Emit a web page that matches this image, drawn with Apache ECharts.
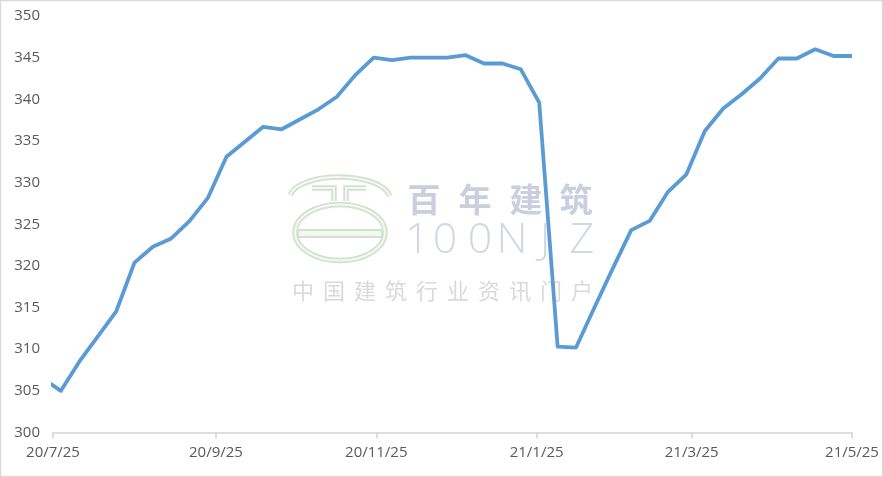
<!DOCTYPE html>
<html><head><meta charset="utf-8">
<script src="https://cdn.jsdelivr.net/npm/echarts@6/dist/echarts.min.js"></script>
<style>html,body{margin:0;padding:0;background:#fff}#c{width:883px;height:477px}</style>
</head><body><div id="c"></div>
<script>
const dates = ['2020-07-21','2020-07-28','2020-08-04','2020-08-11','2020-08-18','2020-08-25','2020-09-01','2020-09-08','2020-09-15','2020-09-22','2020-09-29','2020-10-06','2020-10-13','2020-10-20','2020-10-27','2020-11-03','2020-11-10','2020-11-17','2020-11-24','2020-12-01','2020-12-08','2020-12-15','2020-12-22','2020-12-29','2021-01-05','2021-01-12','2021-01-19','2021-01-26','2021-02-02','2021-02-09','2021-02-16','2021-02-23','2021-03-02','2021-03-09','2021-03-16','2021-03-23','2021-03-30','2021-04-06','2021-04-13','2021-04-20','2021-04-27','2021-05-04','2021-05-11','2021-05-18','2021-05-25'];
const values = [306.5,305.0,308.5,311.5,314.5,320.4,322.3,323.3,325.4,328.2,333.1,334.9,336.7,336.4,337.6,338.8,340.3,342.9,345.0,344.7,345.0,345.0,345.0,345.3,344.3,344.3,343.6,339.6,310.3,310.2,315.0,319.7,324.3,325.4,328.9,331.0,336.2,338.9,340.6,342.5,344.9,344.9,346.0,345.2,345.2];
const tickDates = ['2020-07-25','2020-09-25','2020-11-25','2021-01-25','2021-03-25','2021-05-25'];
const tickLabels = ['20/7/25','20/9/25','20/11/25','21/1/25','21/3/25','21/5/25'];
const yMin = 300, yMax = 350, yStep = 5;
const watermarkTitle = '百年建筑';
const watermarkLatin = ['1','0','0','N','J','Z'];
const watermarkSub = '中国建筑行业资讯门户';

function ts(s){const p=s.split('-').map(Number);return Date.UTC(p[0],p[1]-1,p[2]);}
const tickTs = tickDates.map(ts);
const seriesData = dates.map((d,i)=>[ts(d), values[i]]);

const chart = echarts.init(document.getElementById('c'), null, {renderer:'canvas'});

function charRow(chars, xs, y, font, fill){
  return chars.map((ch,i)=>({type:'text', x:xs[i], y:y, silent:true, z:100,
    style:{text:ch, font:font, fill:fill, align:'center', verticalAlign:'middle'}}));
}
const band = '#d2e2ce', bandIn = '#f4f8f3';
function dbl(el){
  const a = JSON.parse(JSON.stringify(el)); a.style = Object.assign({fill:'none', stroke:band, lineWidth:5.5}, el.style||{});
  const b = JSON.parse(JSON.stringify(el)); b.style = Object.assign({fill:'none', stroke:bandIn, lineWidth:2}, el.style||{}); b.z = 101;
  a.silent = b.silent = true; a.z = a.z||100;
  return [a,b];
}
let graphics = [
  {type:'rect', shape:{x:0.5,y:0.5,width:882,height:476}, style:{fill:'none',stroke:'#d9d9d9',lineWidth:1.5}, silent:true, z:100}
];
graphics = graphics.concat(
  dbl({type:'bezierCurve', shape:{x1:290,y1:195,cpx1:300,cpy1:171,cpx2:380,cpy2:171,x2:390,y2:196}}),
  dbl({type:'polyline', shape:{points:[[312,188],[334,188],[334,201]]}}),
  dbl({type:'polyline', shape:{points:[[346,201],[346,188],[366,188]]}}),
  dbl({type:'ellipse', shape:{cx:340, cy:232.5, rx:45, ry:28}}),
  [{type:'rect', shape:{x:298,y:230,width:84,height:7}, style:{fill:bandIn, stroke:band, lineWidth:2}, silent:true, z:100}]
);
graphics = graphics.concat(
  charRow(watermarkTitle.split(''), [424,475,526,576], 199, 'bold 33px "Noto Sans CJK SC"', 'rgba(150,158,190,0.5)'),
  charRow(watermarkLatin, [417,445,480,512,545,582], 241, '300 43px "Open Sans"', 'rgba(150,158,190,0.42)'),
  charRow(watermarkSub.split(''), [303,334,365,396,427,458,489,520,551,582], 291, '22px "Noto Sans CJK SC"', 'rgba(160,160,160,0.4)')
);

chart.setOption({
  animation:false,
  backgroundColor:'#ffffff',
  grid:{left:53,right:31,top:16,bottom:44.5,containLabel:false,outerBoundsMode:'none'},
  xAxis:{
    type:'value', min:ts('2020-07-25'), max:ts('2021-05-25'),
    axisLine:{show:true,lineStyle:{color:'#d4d4d4',width:1.5}},
    axisTick:{show:true,length:6,lineStyle:{color:'#d4d4d4',width:1.5},customValues:tickTs},
    axisLabel:{customValues:tickTs, color:'#595959', fontSize:15, fontFamily:'"Open Sans", sans-serif', margin:13, hideOverlap:false,
      formatter:function(v){const i=tickTs.indexOf(v);return i>=0?tickLabels[i]:'';}},
    splitLine:{show:false}
  },
  yAxis:{
    type:'value', min:yMin, max:yMax, interval:yStep,
    axisLine:{show:false}, axisTick:{show:false}, splitLine:{show:false},
    axisLabel:{color:'#595959', fontSize:15, fontFamily:'"Open Sans", sans-serif', margin:13}
  },
  series:[{type:'line', data:seriesData, showSymbol:false, symbol:'none', clip:true,
    lineStyle:{color:'#5b9bd5', width:3.8, join:'round', cap:'butt'}}],
  graphic:graphics
});
</script></body></html>
